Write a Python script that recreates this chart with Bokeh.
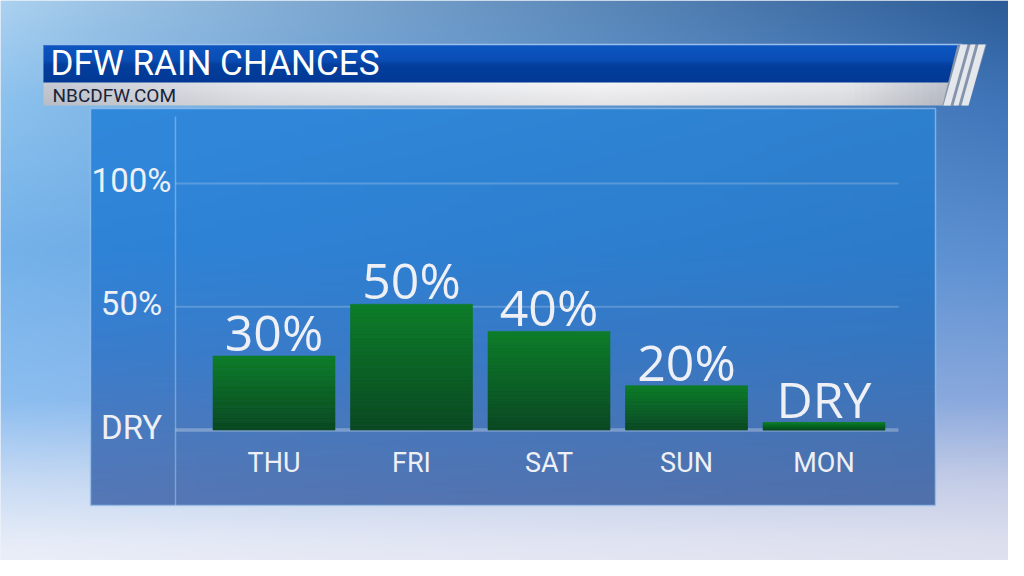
import numpy as np
from bokeh.plotting import figure
from bokeh.models import Range1d, ColumnDataSource
from bokeh.core.properties import value
from bokeh.embed import file_html
from bokeh.resources import INLINE

# ---------------- data ----------------
days = ["THU", "FRI", "SAT", "SUN", "MON"]
rain_bar_pct = [30, 51, 40, 18, 3]          # bar heights
rain_labels = ["30%", "50%", "40%", "20%", "DRY"]
y_tick_values = [0, 50, 100]
y_tick_labels = ["DRY", "50%", "100%"]
title_text = "DFW RAIN CHANCES"
subtitle_text = "NBCDFW.COM"

# ---------------- layout (px, same as the reference picture) ----------------
W, H = 1008, 560
ZERO_S = 429.5
HUNDRED_S = 183.0
PPU = (ZERO_S - HUNDRED_S) / 100.0
DAY0_S = 273.5
DAY_STEP = 137.5
FONT = value("Roboto")
FONT_VAL = value("Open Sans")


def hex2rgb(h):
    h = h.lstrip("#")
    return np.array([int(h[i:i + 2], 16) for i in (0, 2, 4)], dtype=float)


def rgb2hex(c):
    c = np.clip(np.round(c), 0, 255).astype(int)
    return "#%02x%02x%02x" % tuple(c)


def interp_stops(stops, t):
    pos = np.array([s[0] for s in stops], dtype=float)
    cols = np.array([hex2rgb(s[1]) for s in stops])
    t = np.asarray(t, dtype=float)
    return np.stack([np.interp(t, pos, cols[:, k]) for k in range(3)], axis=-1)


def to_rgba_image(rgb):
    h, w, _ = rgb.shape
    img = np.empty((h, w), dtype=np.uint32)
    v = img.view(dtype=np.uint8).reshape((h, w, 4))
    for k in range(3):
        v[:, :, k] = np.clip(rgb[:, :, k], 0, 255).astype(np.uint8)
    v[:, :, 3] = 255
    return img[::-1]  # row 0 is drawn at the bottom


p = figure(width=W, height=H, output_backend="svg", toolbar_location=None,
           x_range=Range1d(0, W), y_range=Range1d(-H, 0),
           x_axis_type=None, y_axis_type=None, min_border=0)
p.grid.visible = False
p.outline_line_color = None
p.background_fill_color = "#dfe8f6"
p.border_fill_color = "#dfe8f6"
p.extra_x_ranges = {"day": Range1d((0 - DAY0_S) / DAY_STEP, (W - DAY0_S) / DAY_STEP)}
p.extra_y_ranges = {"pct": Range1d((ZERO_S - H) / PPU, ZERO_S / PPU)}

# ---------------- sky background ----------------
bh, bw = 280, 504
ys = np.linspace(0, H, bh)
us = np.linspace(0, W, bw) / 1024.0
left_stops = [(0, "#acd2f0"), (100, "#8cc2ee"), (250, "#74b2ea"), (400, "#8cbef0"),
              (480, "#c6daf4"), (540, "#e6ecf8"), (576, "#eef0f8")]
right_stops = [(0, "#2a5a96"), (100, "#3e74b8"), (250, "#5a8ed0"), (400, "#8aa8dc"),
               (480, "#c4cce6"), (540, "#dcdeee"), (576, "#e2e2ef")]
L = interp_stops(left_stops, ys)
R = interp_stops(right_stops, ys)
wgt = us ** 0.9
sky = L[:, None, :] * (1 - wgt)[None, :, None] + R[:, None, :] * wgt[None, :, None]
p.image_rgba(image=[to_rgba_image(sky)], x=0, y=-H, dw=W, dh=H)

# ---------------- panel ----------------
PL, PR, PT, PB = 90, 935, 108, 505
pys = np.linspace(PT, PB, 200)
panel_stops = [(108, "#3189dc"), (250, "#2f83d7"), (350, "#3a7dcc"), (430, "#4a7abf"), (505, "#5677b5")]
pc = interp_stops(panel_stops, pys)
pxs = np.linspace(0, 1, 40)
panel_rgb = pc[:, None, :] * (1 - 0.06 * pxs)[None, :, None]
p.image_rgba(image=[to_rgba_image(panel_rgb)], x=PL, y=-PB, dw=PR - PL, dh=PB - PT)
p.quad(left=[PL], right=[PR], top=[-PT], bottom=[-PB], fill_color=None,
       line_color="#9cc4ee", line_alpha=0.7, line_width=1.5)
p.segment(x0=[175], x1=[175], y0=[-116], y1=[-PB], line_color="white", line_alpha=0.3, line_width=1.5)

# grid lines through the percentage scale
p.segment(x0=[175, 175], x1=[898, 898], y0=[100, 50], y1=[100, 50], y_range_name="pct",
          line_color="white", line_alpha=0.2, line_width=2)
p.segment(x0=[175], x1=[898], y0=[0], y1=[0], y_range_name="pct",
          line_color="white", line_alpha=0.28, line_width=3.5)

# ---------------- bars (vertical green gradient) ----------------
N = 30
bot_c, top_c = hex2rgb("#0a4821"), hex2rgb("#0d7d28")
bx, bb, bt, bc = [], [], [], []
for i, v in enumerate(rain_bar_pct):
    for k in range(N):
        bx.append(i)
        bb.append(v * k / N)
        bt.append(v * (k + 1) / N)
        f = (k + 0.5) / N
        bc.append(rgb2hex(bot_c * (1 - f) + top_c * f))
bars = ColumnDataSource(dict(x=bx, bottom=bb, top=bt, color=bc))
p.vbar(x="x", bottom="bottom", top="top", width=0.887, source=bars,
       x_range_name="day", y_range_name="pct", fill_color="color", line_color="color", line_width=0.6)

# value labels (cap centre ~24px above the bar top)
lab = ColumnDataSource(dict(x=list(range(len(days))), y=rain_bar_pct, t=rain_labels))
p.text(x="x", y="y", text="t", source=lab, x_range_name="day", y_range_name="pct",
       text_align="center", text_baseline="middle", y_offset=-24,
       text_font=FONT_VAL, text_font_size="50px", text_color="#eef0f5")

# day labels
dl = ColumnDataSource(dict(x=list(range(len(days))), y=[-462.5] * len(days), t=days))
p.text(x="x", y="y", text="t", source=dl, x_range_name="day",
       text_align="center", text_baseline="middle",
       text_font=FONT, text_font_size="27px", text_color="#eef0f5")

# y tick labels
yl = ColumnDataSource(dict(x=[131] * len(y_tick_values), y=y_tick_values, t=y_tick_labels))
p.text(x="x", y="y", text="t", source=yl, y_range_name="pct",
       text_align="center", text_baseline="middle", y_offset=-3,
       text_font=FONT, text_font_size="33px", text_color="#eef0f5")

# ---------------- title bar ----------------
tb_stops = [(44, "#0c55c0"), (60, "#0a4db4"), (64, "#043f9e"), (82, "#013894")]
tys = np.linspace(44, 82, 20)
tcols = interp_stops(tb_stops, (tys[:-1] + tys[1:]) / 2)
for j in range(len(tys) - 1):
    y0, y1 = tys[j], tys[j + 1]
    xr0 = 962 - (y0 - 44) * 0.25
    xr1 = 962 - (y1 - 44) * 0.25
    p.patch(x=[43, xr0, xr1, 43], y=[-y0, -y0, -y1 - 0.4, -y1 - 0.4],
            fill_color=rgb2hex(tcols[j]), line_color=None)
p.segment(x0=[43], x1=[962], y0=[-44], y1=[-44], line_color="#9cc0ee", line_width=1.5)

# subtitle bar with horizontal gradient
sb_stops = [(43, "#c6cad3"), (250, "#e4e6eb"), (600, "#f4f4f6"), (850, "#e6e7eb"), (952, "#bfc3cc")]
sxs = np.linspace(43, 952, 120)
scol = interp_stops(sb_stops, sxs)
srgb = np.repeat(scol[None, :, :], 12, axis=0)
vshade = np.linspace(0.94, 1.0, 12)[::-1]
srgb = srgb * vshade[:, None, None]
p.image_rgba(image=[to_rgba_image(srgb)], x=43, y=-105, dw=952 - 43, dh=105 - 82)

# silver slanted stripes
p.patch(x=[957, 986, 968, 942], y=[-44, -44, -105, -105], fill_color="#8593ab", line_color=None)
for (a, b) in [(960, 967), (970, 975), (978, 985)]:
    p.patch(x=[a, b, b - 17, a - 17], y=[-44, -44, -105, -105], fill_color="#e4e7ec", line_color=None)

# texts
p.text(x=[50], y=[-62.5], text=[title_text], text_font=FONT, text_font_size="35px",
       text_color="white", text_align="left", text_baseline="middle")
p.text(x=[52], y=[-94.5], text=[subtitle_text], text_font=FONT, text_font_size="19px",
       text_color="#18233a", text_align="left", text_baseline="middle")

open("out.html", "w").write(file_html(p, INLINE))
